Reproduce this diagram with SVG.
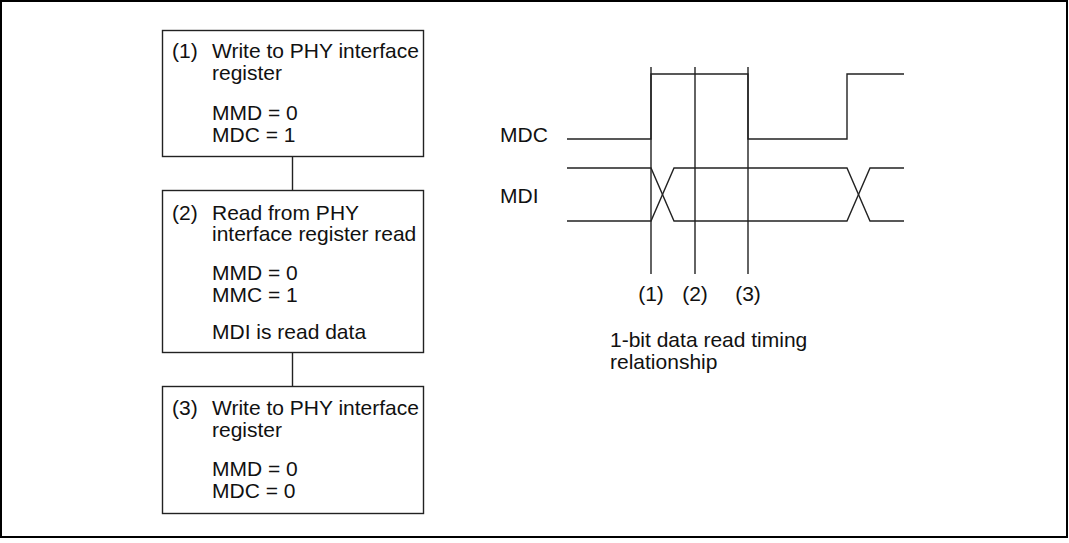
<svg xmlns="http://www.w3.org/2000/svg" width="1069" height="543" viewBox="0 0 1069 543">
<style>
text{font-family:"Liberation Sans",Arial,sans-serif;font-size:21px;fill:#111}
.box{fill:#fff;stroke:#222;stroke-width:1.4}
.ln{fill:none;stroke:#222;stroke-width:1.4}
</style>
<rect x="0" y="0" width="1069" height="543" fill="#fff"/>
<rect x="1" y="1" width="1066" height="536" fill="none" stroke="#000" stroke-width="2"/>
<g id="connectors">
<line class="ln" x1="292.5" y1="157" x2="292.5" y2="190"/>
<line class="ln" x1="292.5" y1="353" x2="292.5" y2="386"/>
</g>
<g id="step1">
<rect class="box" x="162.5" y="30.5" width="261" height="126"/>
<text x="172" y="58">(1)</text>
<text x="212" y="58">Write to PHY interface</text>
<text x="212" y="80">register</text>
<text x="212" y="119.5">MMD = 0</text>
<text x="212" y="141.5">MDC = 1</text>
</g>
<g id="step2">
<rect class="box" x="162.5" y="190.5" width="261" height="162"/>
<text x="172" y="219.5">(2)</text>
<text x="212" y="219.5">Read from PHY</text>
<text x="212" y="240.5">interface register read</text>
<text x="212" y="279.5">MMD = 0</text>
<text x="212" y="301.5">MMC = 1</text>
<text x="212" y="338.5">MDI is read data</text>
</g>
<g id="step3">
<rect class="box" x="162.5" y="386.5" width="261" height="127"/>
<text x="172" y="415">(3)</text>
<text x="212" y="415">Write to PHY interface</text>
<text x="212" y="436.5">register</text>
<text x="212" y="475.5">MMD = 0</text>
<text x="212" y="497.5">MDC = 0</text>
</g>
<g id="timing">
<text x="500" y="142">MDC</text>
<text x="500" y="203">MDI</text>
<polyline class="ln" points="567,139 651,139 651,74 748,74 748,139 847,139 847,74 904,74"/>
<polyline class="ln" points="567,168 651,168 674,221 847,221 870,168 904,168"/>
<polyline class="ln" points="567,221 651,221 674,168 847,168 870,221 904,221"/>
<line class="ln" x1="651" y1="67" x2="651" y2="274"/>
<line class="ln" x1="695" y1="67" x2="695" y2="274"/>
<line class="ln" x1="748" y1="67" x2="748" y2="274"/>
<text x="651" y="301" text-anchor="middle">(1)</text>
<text x="695" y="301" text-anchor="middle">(2)</text>
<text x="748" y="301" text-anchor="middle">(3)</text>
<text x="610" y="346.5">1-bit data read timing</text>
<text x="610" y="368.5">relationship</text>
</g>
</svg>
